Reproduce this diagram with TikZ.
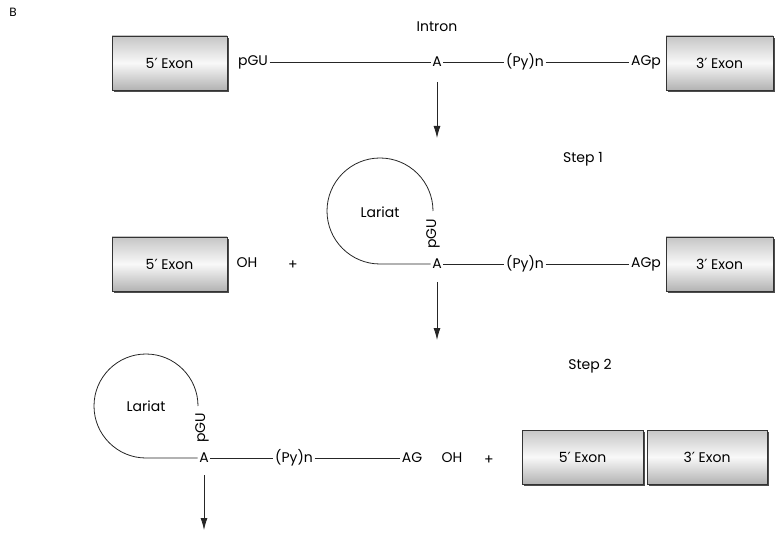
\documentclass[tikz,border=0pt]{standalone}
\usepackage{fontspec}
\setmainfont{Poppins}
\newfontfamily\symf{DejaVu Sans}
\usetikzlibrary{arrows.meta,shadows}
\newcommand{\prm}{{\symf\char"2032}}
\tikzset{
  exon/.style={draw=black!80, line width=0.8pt, inner sep=0pt,
    minimum height=54pt, top color=gray!45, bottom color=gray!60, middle color=gray!5,
    drop shadow={shadow xshift=2pt, shadow yshift=-2pt, fill=black!70, opacity=1},
    font=\fontsize{14}{16}\selectfont},
  lbl/.style={inner sep=1.5pt, font=\fontsize{14}{16}\selectfont},
  wire/.style={line width=0.8pt, draw=black!85},
  downarrow/.style={wire, -{Latex[length=12pt,width=7pt]}}
}
\begin{document}
\begin{tikzpicture}[x=1pt,y=-1pt]
\useasboundingbox (0,0) rectangle (778,534);
\node[lbl, font=\fontsize{12}{14}\selectfont] (B) at (13,12) {B};
\node[lbl] (intron) at (437,27) {Intron};
% Row 1
\node[exon, minimum width=115pt] (ex5a) at (169.5,63) {5\prm\ Exon};
\node[exon, minimum width=107pt] (ex3a) at (719.5,63) {3\prm\ Exon};
\node[lbl] (pGU1) at (253,62) {pGU};
\node[lbl] (A1) at (437,62) {A};
\node[lbl] (Py1) at (525,62) {(Py)n};
\node[lbl] (AGp1) at (646,62) {AGp};
\draw[wire] (pGU1.east) -- (A1.west);
\draw[wire] (A1.east) -- (Py1.west);
\draw[wire] (Py1.east) -- (AGp1.west);
\coordinate (e1) at (437,138);
\draw[downarrow] (437,82) -- (e1);
\node[lbl] (step1) at (583,159) {Step 1};
% Row 2
\node[exon, minimum width=115pt] (ex5b) at (169.5,264) {5\prm\ Exon};
\node[exon, minimum width=107pt] (ex3b) at (719.5,264) {3\prm\ Exon};
\node[lbl] (OH2) at (247,263) {OH};
\node[lbl] (plus2) at (293,265) {+};
\node[lbl] (lar2) at (380,212) {Lariat};
\node[lbl, rotate=90] (pGU2) at (433,234) {pGU};
\node[lbl] (A2) at (437,264) {A};
\node[lbl] (Py2) at (525,264) {(Py)n};
\node[lbl] (AGp2) at (646,264) {AGp};
\coordinate (l2s) at (433,211);
\draw[wire] (l2s) arc[start angle=0, end angle=-270, radius=53] -- (A2.west);
\draw[wire] (A2.east) -- (Py2.west);
\draw[wire] (Py2.east) -- (AGp2.west);
\coordinate (e2) at (437,340);
\draw[downarrow] (437,282) -- (e2);
\node[lbl] (step2) at (590,366) {Step 2};
% Row 3
\node[lbl] (lar3) at (146,406) {Lariat};
\node[lbl, rotate=90] (pGU3) at (202,428) {pGU};
\node[lbl] (A3) at (204,458) {A};
\node[lbl] (Py3) at (294,458) {(Py)n};
\node[lbl] (AG3) at (412,458) {AG};
\node[lbl] (OH3) at (452,458) {OH};
\node[lbl] (plus3) at (489,460) {+};
\node[exon, minimum width=121pt] (ex5c) at (582.5,457) {5\prm\ Exon};
\node[exon, minimum width=120pt] (ex3c) at (707,457) {3\prm\ Exon};
\coordinate (l3s) at (198,406);
\draw[wire] (l3s) arc[start angle=0, end angle=-270, radius=52] -- (A3.west);
\draw[wire] (A3.east) -- (Py3.west);
\draw[wire] (Py3.east) -- (AG3.west);
\coordinate (e3) at (204,530);
\draw[downarrow] (204,475) -- (e3);
\end{tikzpicture}
\end{document}
